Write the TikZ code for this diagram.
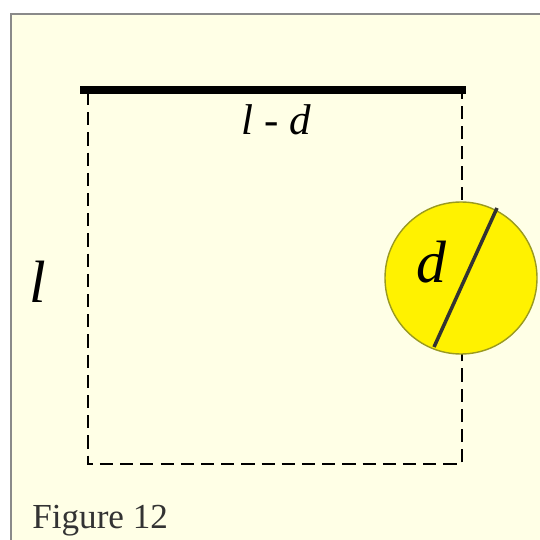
\documentclass[tikz,border=0pt]{standalone}
\usepackage{fontspec}
\setmainfont{Liberation Serif}
\usepackage{xcolor}
\usepackage{tikz}
\definecolor{cream}{HTML}{FFFFE6}
\definecolor{frame}{HTML}{8A8A8A}
\definecolor{rim}{HTML}{9A9A20}

\begin{document}
\begin{tikzpicture}[x=0.02cm,y=-0.02cm]
\useasboundingbox (0,0) rectangle (540,540);
\fill[white] (0,0) rectangle (540,540);
\filldraw[fill=cream, draw=frame, line width=1.5pt] (11,14) rectangle (560,560);
\draw[line width=0.6pt, dash pattern=on 7.5pt off 4pt] (88,92) -- (88,464) -- (462,464) -- (462,92);
\draw[line width=5pt] (80,90) -- (466,90);
\filldraw[fill=yellow, draw=rim, line width=0.8pt] (461,278) circle (76);
\draw[line width=2pt, black!80] (497,208) -- (434,347);
\node[font=\itshape\fontsize{24.5}{24.5}\selectfont] (ld) at (276,120) {l - d};
\node[font=\itshape\fontsize{34}{34}\selectfont] (dd) at (431,262) {d};
\node[font=\itshape\fontsize{34}{34}\selectfont] (ll) at (38,282) {l};
\node[font=\fontsize{20}{20}\selectfont, text=black!80, anchor=base west, inner sep=0pt] (fig) at (32,528) {Figure 12};
\end{tikzpicture}
\end{document}
